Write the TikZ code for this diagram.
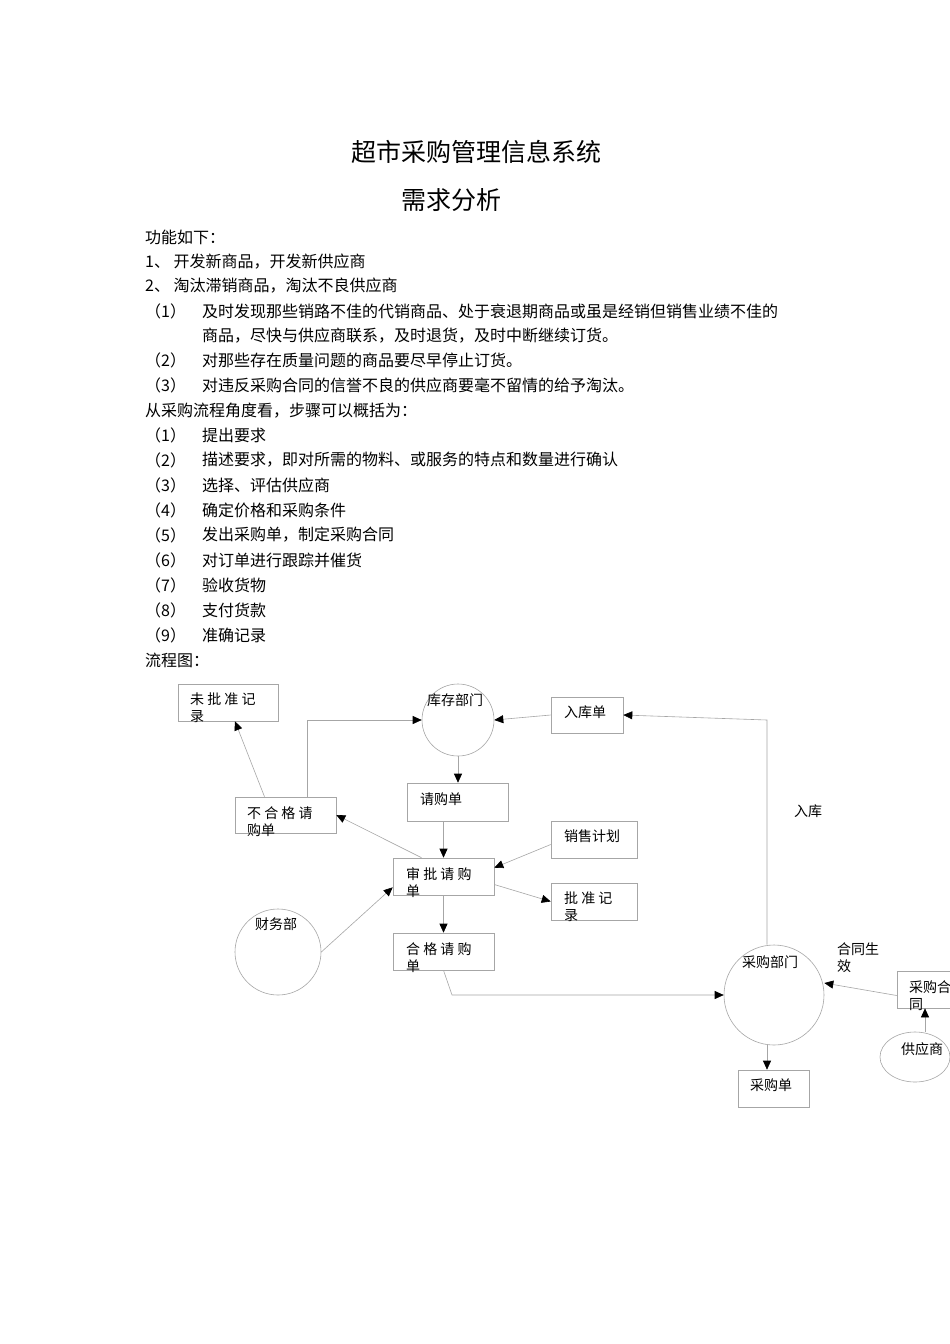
\documentclass[tikz,border=0pt]{standalone}
\usepackage{fontspec}
\setmainfont{Noto Sans CJK SC}
\usetikzlibrary{arrows.meta,shapes.geometric}
\begin{document}
\begin{tikzpicture}[x=1pt,y=-1pt,
  body/.style={anchor=west,inner sep=0pt,font=\fontsize{16}{18}\selectfont},
  box/.style={draw=gray!70,line width=0.6pt,inner sep=0pt},
  circ/.style={draw=gray!70,line width=0.6pt,circle,inner sep=0pt},
  lbl/.style={anchor=north west,inner sep=0pt,align=left,font=\fontsize{14}{17}\selectfont},
  conn/.style={draw=gray!70,line width=0.6pt,-{Triangle[length=9pt,width=8pt,fill=black,color=black]}}]
\useasboundingbox (0,0) rectangle (950,1344);
\fill[white] (0,0) rectangle (950,1344);
\node[inner sep=0pt,font=\fontsize{25}{28}\selectfont] (t1) at (476,152) {超市采购管理信息系统};
\node[inner sep=0pt,font=\fontsize{25}{28}\selectfont] (t2) at (451,200) {需求分析};
\node[body] (l0) at (145,237) {功能如下：};
\node[body] (l1) at (145,262) {1、 开发新商品，开发新供应商};
\node[body] (l2) at (145,286) {2、 淘汰滞销商品，淘汰不良供应商};
\foreach \y/\n/\t in {311/（1）/及时发现那些销路不佳的代销商品、处于衰退期商品或虽是经销但销售业绩不佳的,
  360/（2）/对那些存在质量问题的商品要尽早停止订货。,
  385/（3）/对违反采购合同的信誉不良的供应商要毫不留情的给予淘汰。,
  435/（1）/提出要求,
  460/（2）/描述要求，即对所需的物料、或服务的特点和数量进行确认,
  485/（3）/选择、评估供应商,
  510/（4）/确定价格和采购条件,
  535/（5）/发出采购单，制定采购合同,
  560/（6）/对订单进行跟踪并催货,
  585/（7）/验收货物,
  610/（8）/支付货款,
  635/（9）/准确记录}{
  \node[body] at (145,\y) {\n};
  \node[body] at (202,\y) {\t};
}
\node[body] (l3) at (202,336) {商品，尽快与供应商联系，及时退货，及时中断继续订货。};
\node[body] (l4) at (145,411) {从采购流程角度看，步骤可以概括为：};
\node[body] (l5) at (145,660) {流程图：};
% boxes
\node[box,minimum width=100pt,minimum height=37pt] (wpz) at (228,702.5) {};
\node[box,minimum width=72pt,minimum height=36pt] (rkd) at (587,715) {};
\node[box,minimum width=101pt,minimum height=36pt] (bhg) at (285.5,815) {};
\node[box,minimum width=101pt,minimum height=38pt] (qgd) at (457.5,802) {};
\node[box,minimum width=101pt,minimum height=37pt] (sp) at (443.5,876.5) {};
\node[box,minimum width=86pt,minimum height=37pt] (xs) at (594,839.5) {};
\node[box,minimum width=86pt,minimum height=37pt] (pz) at (594,901.5) {};
\node[box,minimum width=101pt,minimum height=37pt] (hg) at (443.5,951.5) {};
\node[box,minimum width=71pt,minimum height=37pt] (cgd) at (773.5,1088.5) {};
\node[box,minimum width=63pt,minimum height=37pt] (ht) at (928.5,989.5) {};
\node[circ,minimum size=72pt] (kc) at (458,720) {};
\node[circ,minimum size=86pt] (cw) at (278,952) {};
\node[circ,minimum size=100pt] (cg) at (774,995) {};
\node[draw=gray!70,line width=0.6pt,ellipse,minimum width=70pt,minimum height=50pt,inner sep=0pt] (gys) at (915,1057) {};
% labels
\node[lbl] at (190,693) {未 批 准 记\\录};
\node[lbl] at (564,706) {入库单};
\node[lbl] at (247,806) {不 合 格 请\\购单};
\node[lbl] at (420,793) {请购单};
\node[lbl] at (406,867) {审 批 请 购\\单};
\node[lbl] at (564,830) {销售计划};
\node[lbl] at (564,892) {批 准 记\\录};
\node[lbl] at (406,942) {合 格 请 购\\单};
\node[lbl] at (750,1079) {采购单};
\node[lbl] at (909,980) {采购合\\同};
\node[lbl] at (427,693) {库存部门};
\node[lbl] at (255,917) {财务部};
\node[lbl] at (742,955) {采购部门};
\node[lbl] at (901,1042) {供应商};
\node[lbl] (rk) at (794,805) {入库};
\node[lbl] (htsx) at (837,942) {合同生\\效};
% connectors
\coordinate (c1) at (767,720);
\draw[conn] (cg.north -| c1) -- (c1) -- (rkd.east);
\draw[conn] (rkd.west) -- (kc.east);
\draw[conn] (bhg.north -| 307,0) -- (307,720) -- (kc.west);
\draw[conn] ([xshift=-21pt]bhg.north) -- ([xshift=7pt]wpz.south);
\draw[conn] (kc.south) -- (qgd.north -| kc.south);
\draw[conn] (qgd.south -| sp.north) -- (sp.north);
\draw[conn] ([xshift=-22pt]sp.north) -- (bhg.east);
\draw[conn] ([yshift=-5pt]xs.west) -- ([yshift=-10pt]sp.north east);
\draw[conn] ([yshift=-8pt]sp.east) -- (pz.west);
\draw[conn] (cw.east) -- ([yshift=8pt]sp.south west);
\draw[conn] (sp.south) -- (hg.north);
\draw[conn] (hg.south) -- (452,995) -- (cg.west);
\draw[conn] ([yshift=-6pt]ht.west) -- (cg.east |- 0,983);
\draw[conn] (925,1032) -- (ht.south -| 925,0);
\draw[conn] (767,1045) -- (cgd.north -| 767,0);
\end{tikzpicture}
\end{document}
